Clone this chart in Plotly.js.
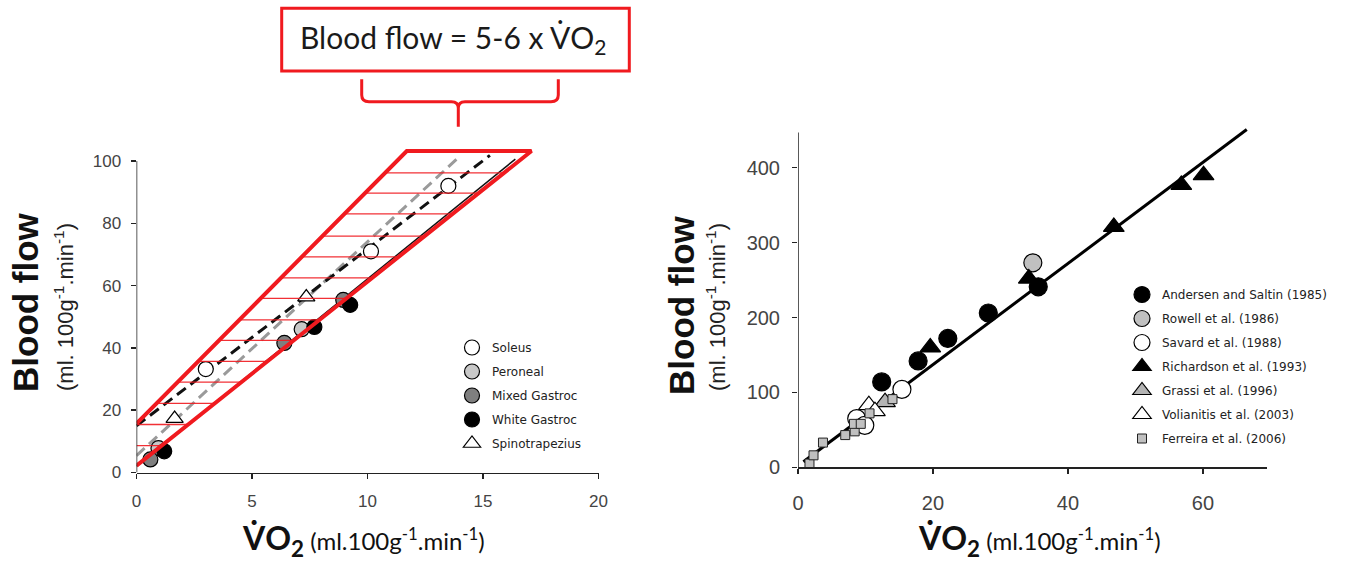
<!DOCTYPE html>
<html>
<head>
<meta charset="utf-8">
<script src="https://cdn.plot.ly/plotly-3.0.1.min.js"></script>
<style>html,body{margin:0;padding:0;background:#fff;}#chart{width:1358px;height:570px;}</style>
</head>
<body>
<div id="chart"></div>
<script>
// ---------- LEFT PANEL DATA ----------
const soleusX = [3.0, 10.15, 13.5];
const soleusY = [33.2, 71.0, 92.0];
const peronealX = [0.95, 7.15];
const peronealY = [7.8, 46.0];
const mixedX = [0.6, 6.4, 8.95];
const mixedY = [4.2, 41.6, 55.4];
const whiteGX = [1.2, 7.7, 9.25];
const whiteGY = [6.8, 46.7, 53.8];
const spinoX = [1.65, 7.35];
const spinoY = [17.3, 56.3];

const fitSolidX = [0, 16.4];
const fitSolidY = [2.0, 100.6];
const fitGrayDashX = [0, 13.85];
const fitGrayDashY = [5.4, 100.5];
const fitBlackDashX = [0, 15.3];
const fitBlackDashY = [15.0, 101.8];

const bandUpperX = [0, 11.7];
const bandUpperY = [15.7, 103.2];
const bandLowerX = [0, 17.1];
const bandLowerY = [2.2, 103.2];
const hatchLevels = [8.6, 15.4, 22.2, 29.0, 35.7, 42.4, 49.0, 55.9, 62.5, 69.2, 75.9, 83.0, 89.7, 96.2];

// ---------- RIGHT PANEL DATA ----------
const andersenX = [12.4, 17.8, 22.2, 28.2, 35.6];
const andersenY = [114, 142, 172, 206, 241];
const rowellX = [34.8];
const rowellY = [273];
const savardX = [8.7, 9.9, 15.4];
const savardY = [65, 56, 104];
const richardsonX = [19.6, 34.2, 46.8, 56.8, 60.1];
const richardsonY = [160, 252, 321, 377, 390];
const grassiX = [12.9];
const grassiY = [87];
const volianitisX = [10.5, 11.4];
const volianitisY = [83, 75];
const ferreiraX = [1.7, 2.3, 3.7, 7.0, 8.4, 8.3, 9.3, 10.6, 14.0];
const ferreiraY = [5, 16, 33, 43, 48, 58, 58, 72, 91];
const fitRightX = [0.8, 66.5];
const fitRightY = [7.4, 451];

const leftTicksX = [0, 5, 10, 15, 20];
const leftTicksY = [0, 20, 40, 60, 80, 100];
const rightTicksX = [0, 20, 40, 60];
const rightTicksY = [0, 100, 200, 300, 400];

// ---------- helpers ----------
const W = 1358, H = 570;
const px = x => x / W;
const py = y => 1 - y / H;
const RED = '#f01a1f';
const AX = '#222';

function xAt(xs, ys, y) { // x on a straight edge at level y
  return xs[0] + (y - ys[0]) * (xs[1] - xs[0]) / (ys[1] - ys[0]);
}
const hatchX = [], hatchY = [];
hatchLevels.forEach(h => {
  hatchX.push(Math.max(0, xAt(bandUpperX, bandUpperY, h)), xAt(bandLowerX, bandLowerY, h), null);
  hatchY.push(h, h, null);
});

const mk = (sym, size, fill) => ({symbol: sym, size: size, color: fill, line: {color: '#000', width: 1.2}});

const traces = [
  // left fit lines
  {x: fitSolidX, y: fitSolidY, xaxis: 'x', yaxis: 'y', mode: 'lines', line: {color: '#111', width: 1.5}, showlegend: false},
  {x: fitGrayDashX, y: fitGrayDashY, xaxis: 'x', yaxis: 'y', mode: 'lines', line: {color: '#9a9a9a', width: 3, dash: '11px,6px'}, showlegend: false},
  {x: fitBlackDashX, y: fitBlackDashY, xaxis: 'x', yaxis: 'y', mode: 'lines', line: {color: '#111', width: 3, dash: '11px,6px'}, showlegend: false},
  // left markers
  {name: 'Soleus', x: soleusX, y: soleusY, xaxis: 'x', yaxis: 'y', mode: 'markers', marker: mk('circle', 15, '#fff'), cliponaxis: false, legend: 'legend', legendgroup: 'a1'},
  {name: 'Peroneal', x: peronealX, y: peronealY, xaxis: 'x', yaxis: 'y', mode: 'markers', marker: mk('circle', 15, '#c8c8c8'), cliponaxis: false, legend: 'legend', legendgroup: 'a2'},
  {name: 'Mixed Gastroc', x: mixedX, y: mixedY, xaxis: 'x', yaxis: 'y', mode: 'markers', marker: mk('circle', 15, '#7f7f7f'), cliponaxis: false, legend: 'legend', legendgroup: 'a3'},
  {name: 'White Gastroc', x: whiteGX, y: whiteGY, xaxis: 'x', yaxis: 'y', mode: 'markers', marker: mk('circle', 15, '#000'), cliponaxis: false, legend: 'legend', legendgroup: 'a4'},
  {name: 'Spinotrapezius', x: spinoX, y: spinoY, xaxis: 'x', yaxis: 'y', mode: 'markers', marker: mk('triangle-up', 15, '#fff'), cliponaxis: false, legend: 'legend', legendgroup: 'a5'},
  // red band
  {x: hatchX, y: hatchY, xaxis: 'x', yaxis: 'y', mode: 'lines', line: {color: 'rgba(240,26,31,0.9)', width: 1.3}, showlegend: false, connectgaps: false},
  {x: [bandUpperX[0], bandUpperX[1], bandLowerX[1], bandLowerX[0]], y: [bandUpperY[0], bandUpperY[1], bandLowerY[1], bandLowerY[0]], xaxis: 'x', yaxis: 'y', mode: 'lines', line: {color: RED, width: 4, shape: 'linear'}, showlegend: false},

  // right fit line
  {x: fitRightX, y: fitRightY, xaxis: 'x2', yaxis: 'y2', mode: 'lines', line: {color: '#000', width: 3}, showlegend: false},
  // right markers
  {name: 'Andersen and Saltin (1985)', x: andersenX, y: andersenY, xaxis: 'x2', yaxis: 'y2', mode: 'markers', marker: mk('circle', 18, '#000'), cliponaxis: false, legend: 'legend2', legendgroup: 'b1'},
  {name: 'Rowell et al. (1986)', x: rowellX, y: rowellY, xaxis: 'x2', yaxis: 'y2', mode: 'markers', marker: mk('circle', 18, '#c0c0c0'), cliponaxis: false, legend: 'legend2', legendgroup: 'b2'},
  {name: 'Savard et al. (1988)', x: savardX, y: savardY, xaxis: 'x2', yaxis: 'y2', mode: 'markers', marker: mk('circle', 18, '#fff'), cliponaxis: false, legend: 'legend2', legendgroup: 'b3'},
  {name: 'Richardson et al. (1993)', x: richardsonX, y: richardsonY, xaxis: 'x2', yaxis: 'y2', mode: 'markers', marker: mk('triangle-up', 18, '#000'), cliponaxis: false, legend: 'legend2', legendgroup: 'b4'},
  {name: 'Grassi et al. (1996)', x: grassiX, y: grassiY, xaxis: 'x2', yaxis: 'y2', mode: 'markers', marker: mk('triangle-up', 18, '#b4b4b4'), cliponaxis: false, legend: 'legend2', legendgroup: 'b5'},
  {name: 'Volianitis et al. (2003)', x: volianitisX, y: volianitisY, xaxis: 'x2', yaxis: 'y2', mode: 'markers', marker: mk('triangle-up', 18, '#fff'), cliponaxis: false, legend: 'legend2', legendgroup: 'b6'},
  {name: 'Ferreira et al. (2006)', x: ferreiraX, y: ferreiraY, xaxis: 'x2', yaxis: 'y2', mode: 'markers', marker: {symbol: 'square', size: 9, color: '#c0c0c0', line: {color: '#222', width: 1}}, cliponaxis: false, legend: 'legend2', legendgroup: 'b7'}
];

const axCommon = {
  ticks: 'outside', ticklen: 5, tickwidth: 1.5, tickcolor: AX,
  showgrid: false, zeroline: false, fixedrange: true
};
const leftTickFont = {family: 'Liberation Sans, Arial, sans-serif', size: 17, color: '#444'};
const rightTickFont = {family: 'Liberation Sans, Arial, sans-serif', size: 20, color: '#444'};
const legendFont = {family: 'DejaVu Sans, sans-serif', size: 12, color: '#222'};

// brace path in pixel coords -> paper
function pathPx(cmds) {
  return cmds.map(c => {
    if (typeof c === 'string') return c;
    return px(c[0]).toFixed(5) + ',' + py(c[1]).toFixed(5);
  }).join(' ');
}
const bracePath = pathPx([
  'M', [361.7, 79.3], 'L', [361.7, 95], 'Q', [361.7, 101.7], [369, 101.7], 'L', [451.5, 101.7],
  'Q', [458.3, 101.7], [458.3, 108], 'L', [458.3, 126.7],
  'M', [458.3, 108], 'Q', [458.3, 101.7], [465, 101.7], 'L', [551, 101.7],
  'Q', [558.3, 101.7], [558.3, 95], 'L', [558.3, 79.3]
]);

const yTitleFont = {family: 'Liberation Sans, Arial, sans-serif', size: 35, color: '#111'};
const ySubFont = {family: 'Liberation Sans, Arial, sans-serif', size: 22, color: '#222'};
const xTitleFont = {family: 'Lato, Open Sans, sans-serif', size: 32, color: '#111'};
const unitHtml = "(ml. 100g<sup>-1</sup>.min<sup>-1</sup>)";
const xTitleHtml = "<b>V\u0307O<sub>2</sub></b><span style='font-size:24px'> (ml.100g<sup>-1</sup>.min<sup>-1</sup>)</span>";

const layout = {
  width: W, height: H,
  margin: {l: 0, r: 0, t: 0, b: 0},
  paper_bgcolor: '#fff', plot_bgcolor: 'rgba(0,0,0,0)',
  xaxis: Object.assign({}, axCommon, {domain: [px(136.5), px(598.5)], range: [0, 20], tickvals: leftTicksX, anchor: 'y',
    showline: true, linecolor: AX, linewidth: 1.5, tickfont: leftTickFont, ticklabelstandoff: 8}),
  yaxis: Object.assign({}, axCommon, {domain: [py(472.5), py(148.5)], range: [0, 104], tickvals: leftTicksY, anchor: 'x',
    showline: false, tickfont: leftTickFont, ticklabelstandoff: 6}),
  xaxis2: Object.assign({}, axCommon, {domain: [px(798), px(1267)], range: [0, 69.5], tickvals: rightTicksX, anchor: 'y2',
    showline: true, linecolor: AX, linewidth: 1.5, tickfont: rightTickFont, ticklabelstandoff: 12}),
  yaxis2: Object.assign({}, axCommon, {domain: [py(467.3), py(126.5)], range: [0, 455], tickvals: rightTicksY, anchor: 'x2',
    showline: false, tickfont: rightTickFont, ticklabelstandoff: 8}),
  legend: {x: px(452), y: py(333), xanchor: 'left', yanchor: 'top', bgcolor: 'rgba(0,0,0,0)', font: legendFont,
    traceorder: 'grouped', tracegroupgap: 5, itemclick: false},
  legend2: {x: px(1122), y: py(280), xanchor: 'left', yanchor: 'top', bgcolor: 'rgba(0,0,0,0)', font: legendFont,
    traceorder: 'grouped', tracegroupgap: 5, itemclick: false},
  shapes: [
    {type: 'line', xref: 'x', yref: 'y', x0: 0, x1: 0, y0: 0, y1: 100, line: {color: AX, width: 1.5}},
    {type: 'line', xref: 'x2', yref: 'y2', x0: 0, x1: 0, y0: 0, y1: 447, line: {color: AX, width: 1.5}},
    {type: 'rect', xref: 'paper', yref: 'paper', x0: px(281.7), x1: px(629.3), y0: py(71), y1: py(8.3), line: {color: RED, width: 3}},
    {type: 'path', xref: 'paper', yref: 'paper', path: bracePath, line: {color: RED, width: 3}}
  ],
  annotations: [
    {xref: 'paper', yref: 'paper', x: px(453), y: py(39), text: "Blood flow = 5-6 x V\u0307O<sub>2</sub>", showarrow: false,
      xanchor: 'center', yanchor: 'middle', font: {family: 'Lato, Open Sans, sans-serif', size: 30, color: '#1a1a1a'}},
    {xref: 'paper', yref: 'paper', x: px(25), y: py(302), text: '<b>Blood flow</b>', textangle: -90, showarrow: false,
      xanchor: 'center', yanchor: 'middle', font: yTitleFont},
    {xref: 'paper', yref: 'paper', x: px(64), y: py(307), text: unitHtml, textangle: -90, showarrow: false,
      xanchor: 'center', yanchor: 'middle', font: ySubFont},
    {xref: 'paper', yref: 'paper', x: px(681), y: py(305), text: '<b>Blood flow</b>', textangle: -90, showarrow: false,
      xanchor: 'center', yanchor: 'middle', font: yTitleFont},
    {xref: 'paper', yref: 'paper', x: px(716), y: py(307), text: unitHtml, textangle: -90, showarrow: false,
      xanchor: 'center', yanchor: 'middle', font: ySubFont},
    {xref: 'paper', yref: 'paper', x: px(363), y: py(540), text: xTitleHtml, showarrow: false,
      xanchor: 'center', yanchor: 'middle', font: xTitleFont},
    {xref: 'paper', yref: 'paper', x: px(1039), y: py(540), text: xTitleHtml, showarrow: false,
      xanchor: 'center', yanchor: 'middle', font: xTitleFont}
  ]
};

Plotly.newPlot('chart', traces, layout, {displayModeBar: false, staticPlot: true});
</script>
</body>
</html>
